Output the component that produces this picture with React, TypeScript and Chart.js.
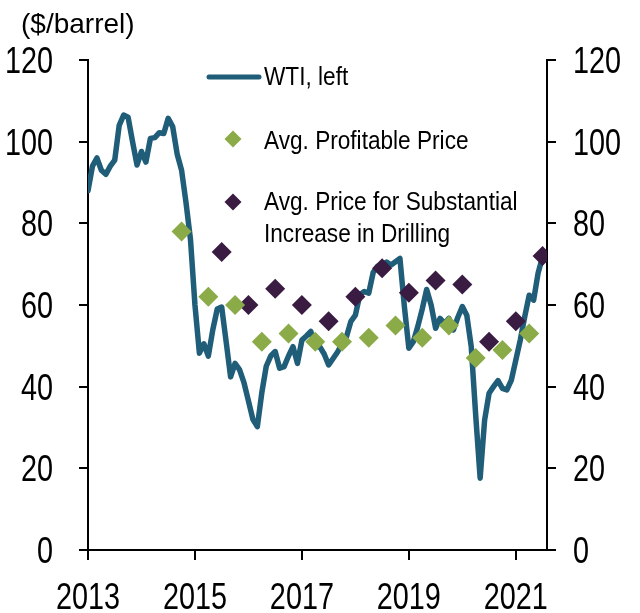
import React, { useEffect, useRef } from "react";
import { Chart, registerables } from "chart.js";

Chart.register(...registerables);

// Monthly WTI average ($/barrel), month index 0 = Dec 2012
const wtiValues: number[] = [
  88, 94, 96, 93, 92, 94, 95.5, 104, 106.5, 106, 100, 94.3,
  97.6, 95, 100.8, 101, 102.2, 102, 105.7, 103.7, 97, 93, 85, 76,
  60, 48.2, 50.5, 47.5, 53.9, 59, 59.5, 51, 42.4, 45.7, 44.2, 41,
  36.5, 32, 30.2, 38.5, 45, 47.5, 48.6, 44.5, 44.9, 47.5, 49.8, 45.7,
  51.4, 52.4, 53.5, 49.8, 49.8, 48, 45.3, 46.9, 48.5, 50.5, 52.2, 56,
  57.5, 62.5, 63.3, 62.9, 68, 69.5, 69.8, 70.5, 69.8, 70.6, 71.4, 59.6,
  49.4, 51, 54.7, 59, 63.8, 60, 54.3, 56.7, 55.5, 56.7, 53.9, 57,
  59.6, 57.5, 49.8, 33, 17.6, 31.8, 38.4, 40, 41.5, 39.6, 39.2, 41.6,
  46.5, 51.4, 57.1, 62.4, 61.2, 67.8, 71.8,
];

// Avg. Profitable Price (survey months, same month index)
const profitMonths: number[] = [21, 27, 33, 39, 45, 51, 57, 63, 69, 75, 81, 87, 93, 99];
const profitValues: number[] = [78, 62, 60, 51, 53, 51, 51, 52, 55, 52, 55, 47, 49, 53];

// Avg. Price for Substantial Increase in Drilling
const drillMonths: number[] = [30, 36, 42, 48, 54, 60, 66, 72, 78, 84, 90, 96, 102];
const drillValues: number[] = [73, 60, 64, 60, 56, 62, 69, 63, 66, 65, 51, 56, 72];

const xTickMonths: number[] = [0, 24, 48, 72, 96];
const xTickLabels: string[] = ["2013", "2015", "2017", "2019", "2021"];
const yTickValues: number[] = [0, 20, 40, 60, 80, 100, 120];

const seriesNames: string[] = [
  "WTI, left",
  "Avg. Profitable Price",
  "Avg. Price for Substantial Increase in Drilling",
];
const legendLines3: string[] = ["Avg. Price for Substantial", "Increase in Drilling"];
const unitLabel = "($/barrel)";

const LINE_COLOR = "#1f5d79";
const GREEN = "#8aab47";
const PURPLE = "#3a1b42";
const SANS = '"Liberation Sans", Arial, sans-serif';

function drawText(
  ctx: CanvasRenderingContext2D,
  text: string,
  x: number,
  baseline: number,
  align: CanvasTextAlign,
  size: number,
  sx: number
) {
  ctx.save();
  ctx.translate(x, baseline);
  ctx.scale(sx, 1);
  ctx.font = `${size}px ${SANS}`;
  ctx.textAlign = align;
  ctx.textBaseline = "alphabetic";
  ctx.fillStyle = "#000";
  ctx.fillText(text, 0, 0);
  ctx.restore();
}

function diamond(ctx: CanvasRenderingContext2D, x: number, y: number, r: number, color: string) {
  ctx.beginPath();
  ctx.moveTo(x, y - r);
  ctx.lineTo(x + r, y);
  ctx.lineTo(x, y + r);
  ctx.lineTo(x - r, y);
  ctx.closePath();
  ctx.fillStyle = color;
  ctx.fill();
}

const TICK_SIZE = 36;
const TICK_SX = 0.8;
const DIGIT_HALF = TICK_SIZE * 0.358;

const overlayPlugin = {
  id: "overlay",
  afterDraw(chart: any) {
    const ctx: CanvasRenderingContext2D = chart.ctx;
    const { x, y, y2 } = chart.scales;

    // tick labels
    yTickValues.forEach((v) => {
      const py = y.getPixelForValue(v) + DIGIT_HALF;
      drawText(ctx, String(v), 53, py, "right", TICK_SIZE, TICK_SX);
      drawText(ctx, String(v), 573, y2.getPixelForValue(v) + DIGIT_HALF, "left", TICK_SIZE, TICK_SX);
    });
    xTickMonths.forEach((m, k) => {
      drawText(ctx, xTickLabels[k], x.getPixelForValue(m), 596 + DIGIT_HALF, "center", TICK_SIZE, TICK_SX);
    });

    // unit label
    drawText(ctx, unitLabel, 21, 33, "left", 28, 1.0);

    // legend
    ctx.save();
    ctx.strokeStyle = LINE_COLOR;
    ctx.lineWidth = 5;
    ctx.lineCap = "round";
    ctx.beginPath();
    ctx.moveTo(209, 77);
    ctx.lineTo(259, 77);
    ctx.stroke();
    ctx.restore();
    drawText(ctx, seriesNames[0], 264, 85, "left", 26, 0.87);

    diamond(ctx, 233, 139, 8.5, GREEN);
    drawText(ctx, seriesNames[1], 264, 149, "left", 26, 0.87);

    diamond(ctx, 233, 202, 8.5, PURPLE);
    drawText(ctx, legendLines3[0], 264, 210, "left", 26, 0.87);
    drawText(ctx, legendLines3[1], 264, 241.5, "left", 26, 0.87);
  },
};

export default function App() {
  const ref = useRef<HTMLCanvasElement>(null);

  useEffect(() => {
    if (!ref.current) return;
    const axisGrid = {
      display: true,
      drawOnChartArea: false,
      drawTicks: true,
      tickLength: 9,
      color: "#000",
      lineWidth: 2,
    };
    const axisBorder = { display: true, color: "#000", width: 2 };
    const hiddenTicks = { display: false };

    const chart = new Chart(ref.current, {
      type: "line",
      data: {
        datasets: [
          {
            label: seriesNames[1],
            data: profitMonths.map((m, k) => ({ x: m, y: profitValues[k] })),
            showLine: false,
            pointStyle: "rectRot",
            pointRadius: 10,
            pointHoverRadius: 10,
            backgroundColor: GREEN,
            borderColor: GREEN,
            borderWidth: 0,
            yAxisID: "y",
            order: 1,
          },
          {
            label: seriesNames[2],
            data: drillMonths.map((m, k) => ({ x: m, y: drillValues[k] })),
            showLine: false,
            pointStyle: "rectRot",
            pointRadius: 10,
            pointHoverRadius: 10,
            backgroundColor: PURPLE,
            borderColor: PURPLE,
            borderWidth: 0,
            yAxisID: "y",
            order: 2,
          },
          {
            label: seriesNames[0],
            data: wtiValues.map((v, i) => ({ x: i, y: v })),
            borderColor: LINE_COLOR,
            borderWidth: 5.5,
            borderJoinStyle: "round",
            borderCapStyle: "round",
            pointRadius: 0,
            tension: 0,
            yAxisID: "y",
            order: 3,
          },
        ],
      } as any,
      options: {
        animation: false,
        responsive: false,
        devicePixelRatio: 1,
        layout: { padding: { top: 60, left: 0, right: 0, bottom: 0 } },
        plugins: { legend: { display: false }, tooltip: { enabled: false } },
        scales: {
          x: {
            type: "linear",
            min: 0,
            max: 103,
            afterBuildTicks: (s: any) => {
              s.ticks = xTickMonths.map((v) => ({ value: v }));
            },
            afterFit: (s: any) => {
              s.height = 63;
            },
            ticks: hiddenTicks,
            grid: { ...axisGrid, tickLength: 10 },
            border: axisBorder,
          },
          y: {
            position: "left",
            min: 0,
            max: 120,
            afterBuildTicks: (s: any) => {
              s.ticks = yTickValues.map((v) => ({ value: v }));
            },
            afterFit: (s: any) => {
              s.width = 88;
            },
            ticks: hiddenTicks,
            grid: axisGrid,
            border: axisBorder,
          },
          y2: {
            position: "right",
            min: 0,
            max: 120,
            afterBuildTicks: (s: any) => {
              s.ticks = yTickValues.map((v) => ({ value: v }));
            },
            afterFit: (s: any) => {
              s.width = 93;
            },
            ticks: hiddenTicks,
            grid: axisGrid,
            border: axisBorder,
          },
        },
      } as any,
      plugins: [overlayPlugin],
    });
    return () => chart.destroy();
  }, []);

  return (
    <div style={{ position: "absolute", left: 0, top: 0, width: 640, height: 613, background: "#fff" }}>
      <canvas ref={ref} width={640} height={613} style={{ display: "block" }} />
    </div>
  );
}
